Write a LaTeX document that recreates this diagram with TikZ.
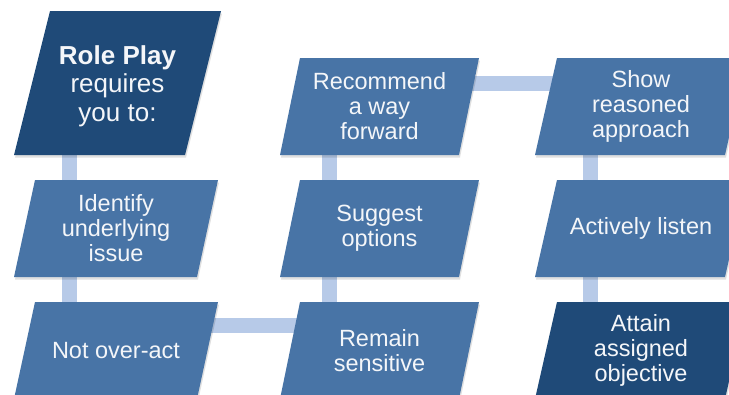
\documentclass[tikz,border=0pt]{standalone}
\usepackage{fontspec}
\setmainfont{Liberation Sans}
\pgfdeclarelayer{background}
\pgfsetlayers{background,main}
\definecolor{darkbox}{HTML}{1F4A78}
\definecolor{midbox}{HTML}{4874A6}
\definecolor{connc}{HTML}{B7CAE8}
\definecolor{txtc}{HTML}{F4F6F9}
\tikzset{
  boxtext/.style={inner sep=0pt, align=center, text=txtc, font=\fontsize{23.5}{25}\selectfont},
  bigtext/.style={font=\fontsize{26}{28.5}\selectfont, yshift=-3pt},
  conn/.style={draw=connc, line width=15pt, line cap=butt},
  shade box/.style={fill=black, opacity=0.12}
}
% #1 name, #2 x0 (bottom-left x), #3 bottom y, #4 edge width, #5 height, #6 slant, #7 colour, #8 extra node style, #9 text
\newcommand\pbox[9]{%
  \fill[shade box] ({#2+1},{#3+2.5}) -- ++(#4,0) -- ++(#6,-#5) -- ++(-#4,0) -- cycle;
  \fill[#7] (#2,#3) -- ++(#4,0) -- ++(#6,-#5) -- ++(-#4,0) -- cycle;
  \node[boxtext,#8] (#1) at ({#2+(#4+#6)/2},{#3-#5/2}) {#9};
}
\begin{document}
\begin{tikzpicture}[x=1pt,y=-1pt]
\useasboundingbox (0,0) rectangle (729,394);
\clip (0,0) rectangle (729,394);
% left column
\pbox{rp}{14}{155}{171}{144}{36}{darkbox}{bigtext}{\textbf{Role Play}\\requires\\you to:}
\pbox{id}{14}{277}{183}{97}{21}{midbox}{}{Identify\\underlying\\issue}
\pbox{no}{14}{399}{183}{97}{21}{midbox}{}{Not over-act}
% middle column
\pbox{rec}{280}{155}{179}{97}{20}{midbox}{}{Recommend\\a way\\forward}
\pbox{so}{280}{277}{179}{97}{20}{midbox}{}{Suggest\\options}
\pbox{rs}{280}{399}{179}{97}{20}{midbox}{}{Remain\\sensitive}
% right column
\pbox{show}{535}{155}{190}{97}{22}{midbox}{}{Show\\reasoned\\approach}
\pbox{al}{535}{277}{190}{97}{22}{midbox}{}{Actively listen}
\pbox{att}{535}{399}{190}{97}{22}{darkbox}{}{Attain\\assigned\\objective}
% connector lanes
\coordinate (laneL) at (69.5,0);
\coordinate (laneM) at (329.5,0);
\coordinate (laneR) at (590,0);
\coordinate (laneB) at (0,325.5);
\coordinate (laneT) at (0,83.5);
\begin{pgfonlayer}{background}
\fill[white] (0,0) rectangle (729,394);
\draw[conn] (laneL |- rp) -- (laneL |- id);
\draw[conn] (laneL |- id) -- (laneL |- no);
\draw[conn] (laneB -| no) -- (laneB -| rs);
\draw[conn] (laneM |- rs) -- (laneM |- so);
\draw[conn] (laneM |- so) -- (laneM |- rec);
\draw[conn] (laneT -| rec) -- (laneT -| show);
\draw[conn] (laneR |- show) -- (laneR |- al);
\draw[conn] (laneR |- al) -- (laneR |- att);
\end{pgfonlayer}
\end{tikzpicture}
\end{document}
